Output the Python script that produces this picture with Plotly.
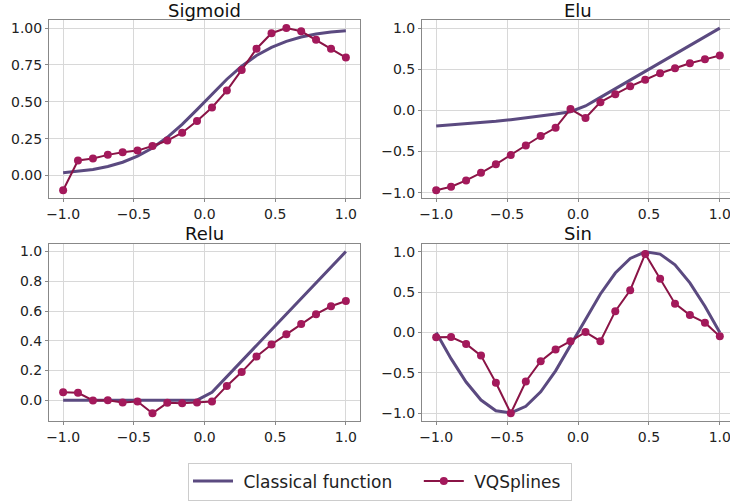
import plotly.graph_objects as go

x_pts = [-1.0, -0.895, -0.789, -0.684, -0.579, -0.474, -0.368, -0.263, -0.158, -0.053,
         0.053, 0.158, 0.263, 0.368, 0.474, 0.579, 0.684, 0.789, 0.895, 1.0]

sigmoid_classical = [0.018, 0.027, 0.041, 0.061, 0.090, 0.131, 0.186, 0.259, 0.347, 0.447,
                     0.553, 0.653, 0.741, 0.814, 0.869, 0.910, 0.939, 0.959, 0.973, 0.982]
sigmoid_vq = [-0.10, 0.102, 0.115, 0.140, 0.157, 0.169, 0.20, 0.237, 0.29, 0.37,
              0.461, 0.576, 0.716, 0.86, 0.965, 1.0, 0.978, 0.92, 0.86, 0.80]

elu_classical = [-0.190, -0.177, -0.164, -0.149, -0.132, -0.113, -0.092, -0.069, -0.044, -0.016,
                 0.053, 0.158, 0.263, 0.368, 0.474, 0.579, 0.684, 0.789, 0.895, 1.0]
elu_vq = [-0.972, -0.928, -0.852, -0.76, -0.656, -0.544, -0.428, -0.312, -0.212, 0.016,
          -0.092, 0.10, 0.196, 0.292, 0.372, 0.452, 0.512, 0.572, 0.62, 0.668]

relu_classical = [0, 0, 0, 0, 0, 0, 0, 0, 0, 0,
                  0.053, 0.158, 0.263, 0.368, 0.474, 0.579, 0.684, 0.789, 0.895, 1.0]
relu_vq = [0.053, 0.05, -0.002, 0.0, -0.015, -0.009, -0.088, -0.018, -0.02, -0.015,
           -0.009, 0.096, 0.189, 0.294, 0.375, 0.443, 0.513, 0.579, 0.632, 0.667]

sin_classical = [0.0, -0.325, -0.614, -0.837, -0.969, -0.997, -0.915, -0.735, -0.476, -0.165,
                 0.165, 0.476, 0.735, 0.915, 0.997, 0.969, 0.837, 0.614, 0.325, 0.0]
sin_vq = [-0.06, -0.057, -0.142, -0.287, -0.623, -1.0, -0.607, -0.356, -0.21, -0.109,
          0.004, -0.109, 0.263, 0.522, 0.972, 0.664, 0.356, 0.215, 0.121, -0.049]

titles = ["Sigmoid", "Elu", "Relu", "Sin"]
classical = [sigmoid_classical, elu_classical, relu_classical, sin_classical]
vq = [sigmoid_vq, elu_vq, relu_vq, sin_vq]
x_ticks = [-1.0, -0.5, 0.0, 0.5, 1.0]
y_ticks = [[0.0, 0.25, 0.5, 0.75, 1.0], [-1.0, -0.5, 0.0, 0.5, 1.0],
           [0.0, 0.2, 0.4, 0.6, 0.8, 1.0], [-1.0, -0.5, 0.0, 0.5, 1.0]]
y_fmt = [".2f", ".1f", ".1f", ".1f"]
y_ranges = [[-0.155, 1.057], [-1.07, 1.103], [-0.142, 1.054], [-1.1, 1.1]]
legend_names = ["\u00a0Classical function\u00a0\u00a0\u00a0\u00a0", "\u00a0VQSplines\u00a0"]

W, H = 730, 501
C_CLASS = "#5b4a80"
C_LINE = "#8a1446"
C_MARK = "#a3195b"

# page-pixel boxes (left, right, top, bottom)
boxes = [(49, 360, 20, 202), (422, 730, 20, 202), (49, 360, 248, 429), (422, 730, 248, 429)]
title_y = [11, 11, 238, 238]


def px(v):
    return v / W


def py(v):
    return 1 - v / H


fig = go.Figure()
font = dict(family="DejaVu Sans", size=14, color="#222")
for i in range(4):
    l, r, t, b = boxes[i]
    xa = "x" if i == 0 else f"x{i+1}"
    ya = "y" if i == 0 else f"y{i+1}"
    fig.add_trace(go.Scatter(x=x_pts, y=classical[i], mode="lines", xaxis=xa, yaxis=ya,
                             line=dict(color=C_CLASS, width=3), name=legend_names[0],
                             showlegend=(i == 0), legendgroup="c"))
    fig.add_trace(go.Scatter(x=x_pts, y=vq[i], mode="lines+markers", xaxis=xa, yaxis=ya,
                             line=dict(color=C_LINE, width=2),
                             marker=dict(color=C_MARK, size=8), name=legend_names[1],
                             showlegend=(i == 0), legendgroup="v"))
    right = i in (1, 3)
    xr = [-1.1, 1.1 - (734 - 730) / 142.0] if right else [-1.1, 1.1]
    xkey = "xaxis" if i == 0 else f"xaxis{i+1}"
    ykey = "yaxis" if i == 0 else f"yaxis{i+1}"
    fig.layout[xkey] = dict(domain=[px(l), px(r)], range=xr, anchor=ya, automargin=False,
                            tickvals=x_ticks, tickformat=".1f", showgrid=True,
                            gridcolor="#d8d8d8", gridwidth=1, zeroline=False,
                            showline=True, linecolor="#888", linewidth=1, mirror=True,
                            ticks="outside", ticklen=3, tickcolor="#888", tickfont=font,
                            ticklabeloverflow="allow")
    fig.layout[ykey] = dict(domain=[py(b), py(t)], range=y_ranges[i], anchor=xa,
                            automargin=False,
                            tickvals=y_ticks[i], tickformat=y_fmt[i], showgrid=True,
                            gridcolor="#d8d8d8", gridwidth=1, zeroline=False,
                            showline=True, linecolor="#888", linewidth=1,
                            mirror=(not right),
                            ticks="outside", ticklen=3, tickcolor="#888", tickfont=font)
    cx = (l + r) / 2 if not right else (422 + 734) / 2
    fig.add_annotation(text=titles[i], x=px(cx), y=py(title_y[i]),
                       xref="paper", yref="paper",
                       xanchor="center", yanchor="middle", showarrow=False,
                       font=dict(family="DejaVu Sans", size=18, color="#111"))

fig.update_layout(
    width=W, height=H, margin=dict(l=0, r=0, t=0, b=0),
    paper_bgcolor="white", plot_bgcolor="white",
    showlegend=True,
    legend=dict(orientation="h", x=px(380), xanchor="center", y=py(471), yanchor="top",
                bordercolor="#cccccc", borderwidth=1, bgcolor="white",
                font=dict(family="DejaVu Sans", size=17, color="#222"),
                itemwidth=40),
)
fig.write_html("out.html", config={"displayModeBar": False},
               post_script="document.body.style.margin='0';")
